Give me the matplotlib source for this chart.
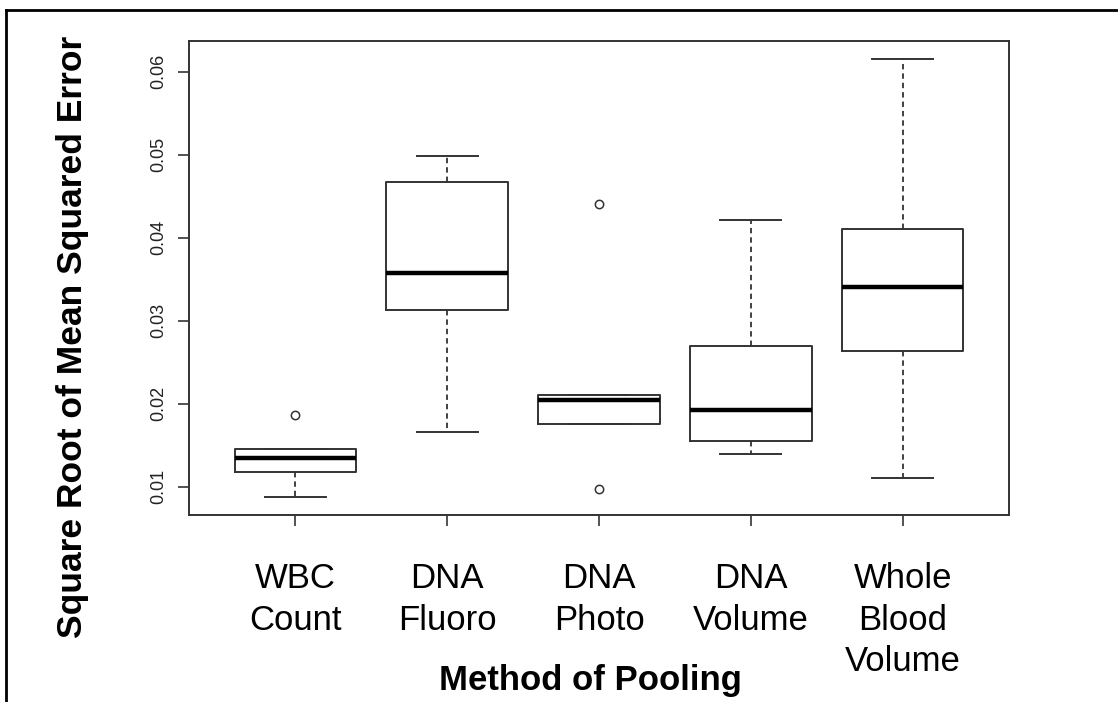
import matplotlib
matplotlib.use('Agg')
import matplotlib.pyplot as plt
from matplotlib.lines import Line2D

plt.rcParams['font.family'] = ['Liberation Sans', 'DejaVu Sans']

# pooling methods and summary stats of the RMSE per method
methods = ['WBC\nCount', 'DNA\nFluoro', 'DNA\nPhoto', 'DNA\nVolume', 'Whole\nBlood\nVolume']
whislo = [0.0087, 0.0166, 0.0175, 0.0139, 0.0111]
q1 = [0.0118, 0.0313, 0.0175, 0.0155, 0.0263]
med = [0.0134, 0.0358, 0.0205, 0.0192, 0.0341]
q3 = [0.0145, 0.0467, 0.0210, 0.0269, 0.0410]
whishi = [0.0145, 0.0499, 0.0210, 0.0422, 0.0616]
fliers = [[0.0186], [], [0.0097, 0.0441], [], []]
yticks = [0.01, 0.02, 0.03, 0.04, 0.05, 0.06]

EDGE = '#333333'

stats = []
for i in range(len(methods)):
    stats.append({'whislo': whislo[i], 'q1': q1[i], 'med': med[i], 'q3': q3[i],
                  'whishi': whishi[i], 'fliers': fliers[i], 'label': methods[i]})

fig = plt.figure(figsize=(11.18, 7.02), dpi=100)
ax = fig.add_axes([189/1118, 1 - 515/702, 820/1118, 474/702])

ax.bxp(stats, positions=range(1, 6), widths=0.8,
       boxprops=dict(color=EDGE, linewidth=1.4),
       medianprops=dict(color='black', linewidth=3.2, solid_capstyle='butt'),
       whiskerprops=dict(color=EDGE, linewidth=1.3, linestyle=(0, (3, 2.2))),
       capprops=dict(color=EDGE, linewidth=1.4),
       capwidths=0.4,
       flierprops=dict(marker='o', markersize=6, markerfacecolor='none',
                       markeredgecolor=EDGE, markeredgewidth=1.1))

# R-style 4% padding around the data range
lo = min(whislo + [v for f in fliers for v in f])
hi = max(whishi + [v for f in fliers for v in f])
pad = 0.04 * (hi - lo)
ax.set_ylim(lo - pad, hi + pad)
ax.set_xlim(0.3, 5.7)

ax.set_yticks(yticks)
ax.set_yticklabels(['%.2f' % v for v in yticks], rotation=90, va='center',
                   fontsize=13, color='#222222')
ax.set_xticklabels(methods, fontsize=25, linespacing=1.33)

ax.tick_params(axis='y', length=8, width=1.2, color=EDGE, pad=8)
ax.tick_params(axis='x', length=8, width=1.2, color=EDGE, pad=26)
for s in ax.spines.values():
    s.set_color(EDGE)
    s.set_linewidth(1.4)

fig.text(73/1118, 1 - 337/702, 'Square Root of Mean Squared Error', rotation=90,
         ha='center', va='center', fontsize=25.5, fontweight='bold')
fig.text(590/1118, 1 - 690/702, 'Method of Pooling', ha='center', va='baseline',
         fontsize=25, fontweight='bold')

# frame around the figure (left and top edges)
fig.add_artist(Line2D([6/1118, 6/1118], [0, 1 - 10/702], color='black', linewidth=2))
fig.add_artist(Line2D([6/1118, 1], [1 - 10/702, 1 - 10/702], color='black', linewidth=2))

fig.savefig('out.png', dpi=100)
